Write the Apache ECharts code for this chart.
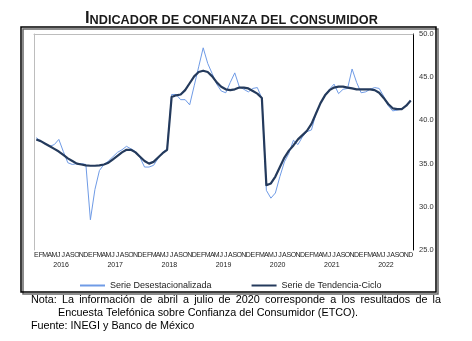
<!DOCTYPE html>
<html>
<head>
<meta charset="utf-8">
<script src="https://cdn.jsdelivr.net/npm/echarts@6/dist/echarts.min.js"></script>
<style>
html,body{margin:0;padding:0;background:#fff;}
#c{width:472px;height:341px;}
</style>
</head>
<body>
<div id="c"></div>
<script>
const monthLetters = ['E','F','M','A','M','J','J','A','S','O','N','D'];
const years = ['2016','2017','2018','2019','2020','2021','2022'];
const yTicks = [25, 30, 35, 40, 45, 50];
const seriesNames = ['Serie Desestacionalizada', 'Serie de Tendencia-Ciclo'];

// Serie desestacionalizada (ene 2016 - dic 2022)
const desest = [
  38.0, 37.6, 37.3, 37.0, 37.2, 37.8, 36.4, 35.1, 34.9, 35.0, 35.0, 34.9,
  28.5, 32.0, 34.2, 34.9, 35.3, 35.8, 36.3, 36.6, 37.0, 36.7, 36.4, 35.7,
  34.6, 34.6, 34.8, 35.6, 36.3, 36.7, 43.0, 43.0, 42.4, 42.4, 41.8, 44.0,
  46.2, 48.4, 46.6, 45.4, 44.2, 43.4, 43.2, 44.4, 45.5, 43.9, 43.6, 43.3,
  43.7, 43.8, 42.55, 31.9, 31.0, 31.6, 33.5, 35.2, 36.2, 37.7, 37.2, 38.1,
  38.7, 38.9, 40.8, 42.0, 42.9, 43.6, 44.2, 43.1, 43.6, 43.7, 45.95, 44.4,
  43.2, 43.3, 43.6, 43.8, 43.7, 42.8, 41.7, 41.1, 41.2, 41.3, 41.8, 42.3
];
// Serie de tendencia-ciclo
const tendencia = [
  37.8, 37.6, 37.3, 37.0, 36.7, 36.4, 36.0, 35.6, 35.3, 35.0, 34.9, 34.8,
  34.75, 34.75, 34.8, 34.9, 35.1, 35.5, 35.9, 36.3, 36.6, 36.6, 36.3, 35.8,
  35.3, 35.0, 35.2, 35.7, 36.2, 36.6, 42.7, 42.9, 43.0, 43.5, 44.3, 45.1,
  45.6, 45.75, 45.6, 45.1, 44.4, 43.9, 43.6, 43.5, 43.6, 43.8, 43.8, 43.7,
  43.4, 43.1, 42.6, 32.5, 32.7, 33.5, 34.6, 35.7, 36.5, 37.1, 37.8, 38.3,
  38.8, 39.6, 40.8, 42.0, 42.9, 43.5, 43.8, 43.9, 43.9, 43.8, 43.7, 43.6,
  43.6, 43.6, 43.6, 43.5, 43.2, 42.6, 41.9, 41.4, 41.3, 41.3, 41.7, 42.3
];

const noteLine1 = 'Nota: La información de abril a julio de 2020 corresponde a los resultados de la';
const noteLine2 = 'Encuesta Telefónica sobre Confianza del Consumidor (ETCO).';
const sourceLine = 'Fuente: INEGI y Banco de México';

const categories = [];
years.forEach(y => monthLetters.forEach(m => categories.push(m)));

const FONT = 'Liberation Sans, Arial, sans-serif';
const NOTE_FONT = '10.8px ' + FONT;

// justified first note line: words spread between x0 and x1
function justifiedWords(text, x0, x1, top) {
  const ctx = document.createElement('canvas').getContext('2d');
  ctx.font = NOTE_FONT;
  const words = text.split(' ');
  const widths = words.map(w => ctx.measureText(w).width);
  const total = widths.reduce((a, b) => a + b, 0);
  const gap = (x1 - x0 - total) / (words.length - 1);
  let x = x0;
  return words.map((w, i) => {
    const el = {type: 'text', x: x, y: top, style: {text: w, font: NOTE_FONT, fill: '#000'}};
    x += widths[i] + gap;
    return el;
  });
}

const chart = echarts.init(document.getElementById('c'), null, {renderer: 'canvas'});

chart.setOption({
  animation: false,
  backgroundColor: '#fff',
  textStyle: {fontFamily: FONT},
  title: {
    text: '{a|I}{b|NDICADOR DE CONFIANZA DEL CONSUMIDOR}',
    left: 85,
    top: 10,
    padding: 0,
    textStyle: {
      rich: {
        a: {fontFamily: FONT, fontSize: 16.5, fontWeight: 'bold', color: '#1a1a1a', verticalAlign: 'bottom'},
        b: {fontFamily: FONT, fontSize: 12.7, fontWeight: 'bold', color: '#1a1a1a', verticalAlign: 'bottom'}
      }
    }
  },
  graphic: [
    {
      type: 'rect',
      shape: {x: 21, y: 27, width: 415, height: 265},
      style: {fill: 'none', stroke: '#000', lineWidth: 1.5, shadowColor: 'rgba(0,0,0,0.6)', shadowOffsetX: 2, shadowOffsetY: 2, shadowBlur: 0},
      z: -1
    },
    ...justifiedWords(noteLine1, 31, 441, 295),
    {
      type: 'text', x: 58, y: 308,
      style: {text: noteLine2, font: NOTE_FONT, fill: '#000'}
    },
    {
      type: 'text', x: 31, y: 321,
      style: {text: sourceLine, font: NOTE_FONT, fill: '#000'}
    }
  ],
  legend: {
    data: seriesNames.map(n => ({name: n, icon: 'rect'})),
    bottom: 51,
    left: 80,
    padding: 0,
    itemWidth: 25,
    itemHeight: 2,
    itemGap: 40,
    textStyle: {fontSize: 9, color: '#222', fontFamily: FONT}
  },
  grid: {left: 34, right: 59, top: 34, bottom: 91, containLabel: false},
  xAxis: [
    {
      type: 'category',
      data: categories,
      boundaryGap: true,
      position: 'bottom',
      axisLine: {show: false},
      axisTick: {show: false},
      axisLabel: {interval: 0, fontSize: 7, color: '#222', margin: 2, fontFamily: FONT}
    },
    {
      type: 'category',
      data: years,
      boundaryGap: true,
      position: 'bottom',
      offset: 10,
      axisLine: {show: false},
      axisTick: {show: false},
      axisLabel: {interval: 0, fontSize: 7, color: '#222', margin: 2, fontFamily: FONT}
    },
    {
      type: 'category',
      data: years,
      position: 'top',
      axisLine: {show: true, lineStyle: {color: '#bdbdbd', width: 1}},
      axisTick: {show: false},
      axisLabel: {show: false}
    }
  ],
  yAxis: [
    {
      type: 'value',
      min: yTicks[0],
      max: yTicks[yTicks.length - 1],
      interval: 5,
      position: 'right',
      axisLine: {show: true, lineStyle: {color: '#000', width: 1}},
      axisTick: {show: false},
      splitLine: {show: false},
      axisLabel: {fontSize: 7.5, color: '#333', margin: 6, formatter: v => v.toFixed(1), fontFamily: FONT}
    },
    {
      type: 'value',
      min: yTicks[0],
      max: yTicks[yTicks.length - 1],
      position: 'left',
      axisLine: {show: true, lineStyle: {color: '#bdbdbd', width: 1}},
      axisTick: {show: false},
      splitLine: {show: false},
      axisLabel: {show: false}
    }
  ],
  series: [
    {
      name: seriesNames[0],
      type: 'line',
      data: desest,
      symbol: 'none',
      color: '#6f9be6',
      lineStyle: {width: 1, color: '#6f9be6'},
      z: 2
    },
    {
      name: seriesNames[1],
      type: 'line',
      data: tendencia,
      symbol: 'none',
      color: '#243a5c',
      lineStyle: {width: 2.2, color: '#243a5c', join: 'round'},
      z: 3
    }
  ]
});
</script>
</body>
</html>
